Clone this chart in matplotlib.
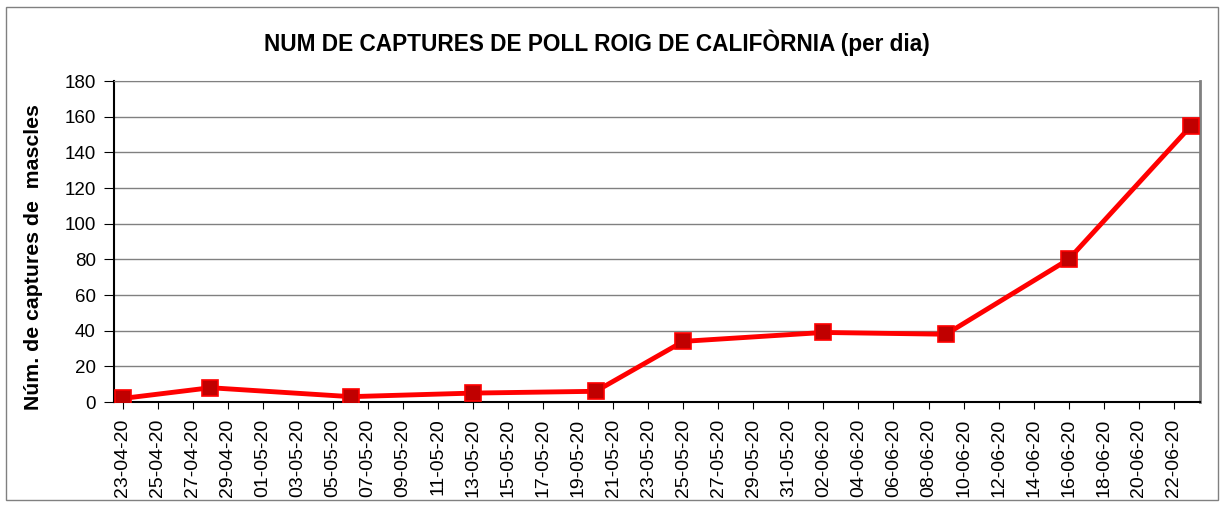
import numpy as np
import pandas as pd
import matplotlib
matplotlib.use('Agg')
import matplotlib.pyplot as plt
import matplotlib.dates as mdates
from matplotlib.patches import Rectangle

# Data
dates = ['2020-04-23', '2020-04-28', '2020-05-06', '2020-05-13', '2020-05-20',
         '2020-05-25', '2020-06-02', '2020-06-09', '2020-06-16', '2020-06-23']
captures = [2, 8, 3, 5, 6, 34, 39, 38, 80, 155]
y_ticks = [0, 20, 40, 60, 80, 100, 120, 140, 160, 180]

plt.rcParams['font.family'] = ['Liberation Sans', 'DejaVu Sans']

x = pd.to_datetime(dates)
start = pd.Timestamp('2020-04-23')
tick_dates = pd.date_range(start, '2020-06-22', freq='2D')

fig = plt.figure(figsize=(12.25, 5.07), dpi=100)
ax = fig.add_axes([0.0931, 0.2071, 0.8865, 0.6331])

# Outer frame of the chart
fig.patches.append(Rectangle((0.005, 0.014), 0.989, 0.972, transform=fig.transFigure,
                             fill=False, edgecolor='#808080', linewidth=1))

ax.plot(x, captures, color='#ff0000', linewidth=3.5, marker='s', markersize=11,
        markerfacecolor='#c00000', markeredgecolor='#ff0000', markeredgewidth=1.2,
        zorder=3)

ax.set_xlim(start - pd.Timedelta(hours=12), start + pd.Timedelta(days=61.5))
ax.set_ylim(0, 180)
ax.set_yticks(y_ticks)
ax.set_xticks(tick_dates)
ax.xaxis.set_major_formatter(mdates.DateFormatter('%d-%m-%y'))
ax.tick_params(axis='x', labelrotation=90, labelsize=14, length=5, pad=7, direction='out')
ax.tick_params(axis='y', labelsize=13.5, length=7, pad=6, direction='out')

ax.grid(axis='y', color='#808080', linewidth=1)
ax.set_axisbelow(True)
ax.spines['left'].set_color('black')
ax.spines['bottom'].set_color('black')
ax.spines['left'].set_linewidth(1.5)
ax.spines['bottom'].set_linewidth(1.5)
ax.spines['top'].set_color('#808080')
ax.spines['right'].set_color('#808080')
ax.spines['right'].set_linewidth(2)

fig.text(597 / 1225, 1 - 43 / 507, 'NUM DE CAPTURES DE POLL ROIG DE CALIFÒRNIA (per dia)',
         fontsize=16.3, fontweight='bold', ha='center', va='center')
ax.set_ylabel('Núm. de captures de  mascles', fontsize=15.3, fontweight='bold')
ax.yaxis.set_label_coords(-0.0654, 0.45)

plt.savefig('out.png', dpi=100)
